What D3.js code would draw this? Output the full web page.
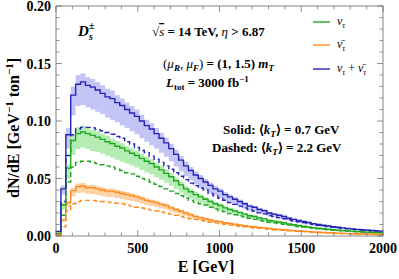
<!DOCTYPE html>
<html><head><meta charset="utf-8">
<script src="https://cdn.jsdelivr.net/npm/d3@7"></script>
<style>body{margin:0;background:#fff} svg{display:block} text{font-family:"Liberation Serif","Times New Roman",serif;fill:#000}</style>
</head><body><svg id="c" width="399" height="279"></svg>
<script>
// Histogram: 30 GeV bins starting at 0 GeV; values in units of 1e-3 GeV^-1 ton^-1
const binWidth = 30;
const xTicks = [0, 500, 1000, 1500, 2000];
const yTicks = [0, 0.05, 0.10, 0.15, 0.20];
const yTickLabels = ["0.00", "0.05", "0.10", "0.15", "0.20"];

// nu_tau, <kT> = 0.7 GeV (solid)
const nuSolid = [2.5,27,59,83,89,90.5,89,87.5,86,84,82,80.5,78,76.5,74,72,70,67.5,65,63,60,57.5,54.5,51.5,48,44.5,41,38.5,36,34,32,30,28,26.5,24.5,23,21.7,20.3,19,17.6,17,15.6,14.9,13.5,12.9,12.2,11.5,10.5,9.8,9.1,8.5,7.9,7.3,6.8,6.3,5.9,5.5,5.1,4.8,4.5,4.2,3.9,3.6,3.4,3.2,3.0,2.8];
// nu_tau, <kT> = 2.2 GeV (dashed)
const nuDashed = [1.5,18,47,60,64,65,65,64,63,62,61,60,58,57,55,54,52,50,49,47,45,43,41,39,37,35,33,31,29.5,28,27,25,23.5,22,21,19.5,18.5,17.5,16.5,15.5,14.5,13.5,13,12,11.5,10.8,10.1,9.5,8.8,8.3,7.8,7.3,6.8,6.3,5.9,5.5,5.2,4.8,4.5,4.2,3.9,3.7,3.5,3.3,3.1,2.9,2.7];
// anti-nu_tau, solid
const nubarSolid = [1.5,14,29,39.5,43,43.5,42,42,41,40,39,39,38,37,36,35,34,32.5,31,30,29,27.5,26.5,24.5,23,21.5,20,18.5,17,16,15,14,13,12.5,11.5,11,10.3,9.7,9,8.4,8,7.4,7.1,6.5,6.1,5.8,5.5,5,4.7,4.4,4.1,3.8,3.5,3.2,3,2.8,2.6,2.5,2.3,2.1,2,1.9,1.8,1.7,1.6,1.5,1.4];
// anti-nu_tau, dashed
const nubarDashed = [0.5,8,22,28,30,31,31,31,30.5,30,29.5,29,28.5,28,27,26,25,24.3,23.5,22.5,21.8,21,20,19,18,17,16,15,14.3,13.7,13,12,11.4,10.8,10.1,9.5,9,8.5,8,7.5,7,6.6,6.2,5.8,5.5,5.2,4.9,4.6,4.3,4,3.8,3.5,3.3,3.1,2.9,2.7,2.5,2.3,2.2,2,1.9,1.8,1.7,1.6,1.5,1.4,1.3];
// nu + nubar, solid
const sumSolid = [4,41,88,122.5,132,134,131,129.5,127,124,121,119.5,116,113.5,110,107,104,100,96,93,89,85,81,76,71,66,61,57,53,50,47,44,41,39,36,34,32,30,28,26,25,23,22,20,19,18,17,15.5,14.5,13.5,12.6,11.7,10.8,10,9.3,8.7,8.1,7.6,7.1,6.6,6.2,5.8,5.4,5.1,4.8,4.5,4.2];
// nu + nubar, dashed
const sumDashed = [2,30,70,88,93,94.5,94.5,94,92.5,91.5,90,88.5,86.5,85,82,80,77,74.3,72.5,69.5,66.8,64,61,58,55,52,49,46,43.8,41.7,40,37,34.9,32.8,31.1,29,27.5,26,24.5,23,21.5,20.1,19.2,17.8,17,16,15,14.1,13.1,12.3,11.6,10.8,10.1,9.4,8.8,8.2,7.7,7.1,6.7,6.2,5.8,5.5,5.2,4.9,4.6,4.3,4];
// scale-variation bands (mu_R, mu_F), solid case: low / high edges
const nuLo = [2.1,23,50,70.5,75.7,77,75.7,74,73,71.5,69.7,68,66.3,64.6,63,61.2,59.5,57.4,55.3,53.6,51,48.9,46.3,43.8,40.8,37.8,34.9,32.7,30.6,28.9,27.2,25.5,23.8,22.5,20.8,19.6,18.4,17.3,16.2,15,14.5,13.3,12.7,11.5,11,10.4,9.8,8.9,8.3,7.7,7.2,6.7,6.2,5.8,5.4,5,4.7,4.3,4.1,3.8,3.6,3.3,3.1,2.9,2.7,2.6,2.4];
const nuHi = [2.7,28.6,62.5,88,94.5,96,94.5,92.2,91,89,87,84.8,82.7,80.6,78.4,76.3,74.2,71.6,68.9,66.8,63.6,61,57.8,54.6,50.9,47.2,43.5,40.8,38.2,36,33.9,31.8,29.7,28.1,26,24.4,23,21.5,20.1,18.7,18,16.5,15.8,14.3,13.7,12.9,12.2,11.1,10.4,9.6,9,8.4,7.7,7.2,6.7,6.3,5.8,5.4,5.1,4.8,4.5,4.1,3.8,3.6,3.4,3.2,3];
const nubarLo = [1.3,12.2,25.2,34.4,37.4,37.8,36.5,36.5,35.7,34.8,33.9,33.9,33.1,32.2,31.3,30.5,29.6,28.3,27,26.1,25.2,23.9,23.1,21.3,20,18.7,17.4,16.1,14.8,13.9,13.1,12.2,11.3,10.9,10,9.6,9,8.4,7.8,7.3,7,6.4,6.2,5.7,5.3,5,4.8,4.4,4.1,3.8,3.6,3.3,3,2.8,2.6,2.4,2.3,2.2,2,1.8,1.7,1.7,1.6,1.5,1.4,1.3,1.2];
const nubarHi = [1.6,14.8,30.7,41.9,45.6,46.1,44.5,44.5,43.5,42.4,41.3,41.3,40.3,39.2,38.2,37.1,36,34.5,32.9,31.8,30.7,29.2,28.1,26,24.4,22.8,21.2,19.6,18,17,15.9,14.8,13.8,13.3,12.2,11.7,10.9,10.3,9.5,8.9,8.5,7.8,7.5,6.9,6.5,6.1,5.8,5.3,5,4.7,4.3,4,3.7,3.4,3.2,3,2.8,2.7,2.4,2.2,2.1,2,1.9,1.8,1.7,1.6,1.5];
const sumLo = [3.5,36,76,105,113,114,112,110,108,106,103,101,99,96,94,91,88.5,85,82,79,76,72.5,69,65,60.5,56,52,48.5,45,42.5,40,37.5,35,33,30.5,29,27.2,25.5,23.8,22.1,21.3,19.6,18.7,17,16.2,15.3,14.5,13.2,12.3,11.5,10.7,9.9,9.2,8.5,7.9,7.4,6.9,6.5,6,5.6,5.3,4.9,4.6,4.3,4.1,3.8,3.6];
const sumHi = [4.5,44,94,130,140,141.5,138,136.5,134,131,128,126.5,122.5,119.5,116,113,110,105.5,101,98,94,89.5,85.5,80,75,69.5,64.5,60,56,53,49.5,46.5,43.5,41,38,36,33.8,31.7,29.6,27.5,26.4,24.3,23.2,21.1,20,19,18,16.4,15.3,14.2,13.3,12.3,11.4,10.6,9.8,9.2,8.5,8,7.5,7,6.5,6.1,5.7,5.4,5.1,4.7,4.4];

const W = 399, H = 279;
const m = {l: 56, r: 16, t: 6, b: 43};
const svg = d3.select("#c");
const x = d3.scaleLinear().domain([0, 2000]).range([m.l, W - m.r]);
const y = d3.scaleLinear().domain([0, 0.20]).range([H - m.b, m.t]);

const cBlue = "#2323b4", cGreen = "#1fa81f", cOrange = "#ff8a1e";
const fBlue = "#c4c4f7", fGreen = "#b4ecb4", fOrange = "#ffd2a6";

svg.append("defs").append("clipPath").attr("id", "clip")
  .append("rect").attr("x", m.l).attr("y", m.t).attr("width", W - m.l - m.r).attr("height", H - m.t - m.b);

function pts(arr) {
  const p = arr.map((v, i) => [i * binWidth, v / 1000]);
  p.push([arr.length * binWidth, arr[arr.length - 1] / 1000]);
  return p;
}
const stepLine = d3.line().x(d => x(d[0])).y(d => y(d[1])).curve(d3.curveStepAfter);
const stepArea = d3.area().x(d => x(d[0])).y0(d => y(d[1])).y1(d => y(d[2])).curve(d3.curveStepAfter);
function bandPts(lo, hi) {
  const p = lo.map((v, i) => [i * binWidth, v / 1000, hi[i] / 1000]);
  p.push([lo.length * binWidth, lo[lo.length - 1] / 1000, hi[hi.length - 1] / 1000]);
  return p;
}
const g = svg.append("g").attr("clip-path", "url(#clip)");
[[sumLo, sumHi, fBlue], [nuLo, nuHi, fGreen], [nubarLo, nubarHi, fOrange]].forEach(([lo, hi, c]) => {
  g.append("path").attr("d", stepArea(bandPts(lo, hi))).attr("fill", c).attr("stroke", "none");
});
const series = [
  [nubarDashed, cOrange, true], [nuDashed, cGreen, true], [sumDashed, cBlue, true],
  [nubarSolid, cOrange, false], [nuSolid, cGreen, false], [sumSolid, cBlue, false]
];
series.forEach(([arr, c, dashed]) => {
  g.append("path").attr("d", stepLine(pts(arr))).attr("fill", "none").attr("stroke", c)
    .attr("stroke-width", 1.4).attr("stroke-dasharray", dashed ? "5,3" : null);
});

// frame and ticks
const frameCol = "#666";
svg.append("rect").attr("x", m.l).attr("y", m.t).attr("width", W - m.l - m.r).attr("height", H - m.t - m.b)
  .attr("fill", "none").attr("stroke", frameCol).attr("stroke-width", 0.8);
const xMinor = d3.range(0, 2001, 100), yMinor = d3.range(0, 0.2001, 0.01);
const tk = svg.append("g").attr("stroke", frameCol).attr("stroke-width", 0.7);
xMinor.forEach(v => {
  const major = xTicks.includes(v); const L = major ? 6 : 3.5;
  tk.append("line").attr("x1", x(v)).attr("x2", x(v)).attr("y1", y(0)).attr("y2", y(0) - L);
  tk.append("line").attr("x1", x(v)).attr("x2", x(v)).attr("y1", y(0.2)).attr("y2", y(0.2) + L);
});
yMinor.forEach((v, i) => {
  const major = i % 5 === 0; const L = major ? 6 : 3.5;
  tk.append("line").attr("y1", y(v)).attr("y2", y(v)).attr("x1", x(0)).attr("x2", x(0) + L);
  tk.append("line").attr("y1", y(v)).attr("y2", y(v)).attr("x1", x(2000)).attr("x2", x(2000) - L);
});
svg.append("g").selectAll("text").data(xTicks).join("text")
  .attr("x", d => x(d)).attr("y", 253).attr("text-anchor", "middle")
  .attr("font-size", 14).attr("font-weight", "bold").text(d => d);
svg.append("g").selectAll("text").data(yTicks).join("text")
  .attr("x", 51).attr("y", d => y(d) + 5).attr("text-anchor", "end")
  .attr("font-size", 14).attr("font-weight", "bold").text((d, i) => yTickLabels[i]);

// axis labels
svg.append("text").attr("x", 206).attr("y", 272).attr("text-anchor", "middle")
  .attr("font-size", 16).attr("font-weight", "bold").text("E [GeV]");
const yl = svg.append("text").attr("transform", "translate(19,128) rotate(-90)").attr("text-anchor", "middle")
  .attr("font-size", 16).attr("font-weight", "bold");
yl.append("tspan").text("dN/dE [GeV");
yl.append("tspan").attr("dy", -6).attr("font-size", 11).text("−1");
yl.append("tspan").attr("dy", 6).text(" ton");
yl.append("tspan").attr("dy", -6).attr("font-size", 11).text("−1");
yl.append("tspan").attr("dy", 6).text("]");

// annotations
const ann = svg.append("g").attr("font-weight", "bold");
ann.append("text").attr("x", 78).attr("y", 36).attr("font-size", 15).attr("font-style", "italic").text("D");
ann.append("text").attr("x", 89).attr("y", 29).attr("font-size", 10).text("±");
ann.append("text").attr("x", 89).attr("y", 40).attr("font-size", 10).attr("font-style", "italic").text("s");

const t1 = ann.append("text").attr("x", 152).attr("y", 36).attr("font-size", 13);
t1.append("tspan").attr("font-weight", "normal").text("√");
t1.append("tspan").attr("font-style", "italic").attr("font-weight", "normal").attr("text-decoration", "overline").text("s");
t1.append("tspan").text(" = 14 TeV,  ");
t1.append("tspan").attr("font-style", "italic").attr("font-weight", "normal").text("η");
t1.append("tspan").text(" > 6.87");

const t2 = ann.append("text").attr("x", 163).attr("y", 68).attr("font-size", 13);
t2.append("tspan").attr("font-weight", "normal").text("(");
t2.append("tspan").attr("font-style", "italic").attr("font-weight", "normal").text("μ");
t2.append("tspan").attr("font-style", "italic").attr("font-size", 9).attr("dy", 3).text("R");
t2.append("tspan").attr("dy", -3).attr("font-weight", "normal").text(", ");
t2.append("tspan").attr("font-style", "italic").attr("font-weight", "normal").text("μ");
t2.append("tspan").attr("font-style", "italic").attr("font-size", 9).attr("dy", 3).text("F");
t2.append("tspan").attr("dy", -3).attr("font-weight", "normal").text(")");
t2.append("tspan").text(" = (1, 1.5) ");
t2.append("tspan").attr("font-style", "italic").text("m");
t2.append("tspan").attr("font-style", "italic").attr("font-size", 9).attr("dy", 3).text("T");

const t3 = ann.append("text").attr("x", 166).attr("y", 87).attr("font-size", 13);
t3.append("tspan").attr("font-style", "italic").text("L");
t3.append("tspan").attr("font-size", 9).attr("dy", 3).text("tot");
t3.append("tspan").attr("dy", -3).text(" = 3000 fb");
t3.append("tspan").attr("font-size", 9).attr("dy", -5).text("−1");

function ktText(xx, yy, pre, val) {
  const t = ann.append("text").attr("x", xx).attr("y", yy).attr("font-size", 13);
  t.append("tspan").text(pre + " ⟨");
  t.append("tspan").attr("font-style", "italic").text("k");
  t.append("tspan").attr("font-style", "italic").attr("font-size", 9).attr("dy", 3).text("T");
  t.append("tspan").attr("dy", -3).text("⟩ = " + val + " GeV");
}
ktText(223, 134, "Solid:", "0.7");
ktText(212, 152, "Dashed:", "2.2");

// legend
const legend = [
  {c: cGreen, lab: [["ν", 0], ["τ", 1]]},
  {c: cOrange, lab: [["ν\u0304", 0], ["τ", 1]]},
  {c: cBlue, lab: [["ν", 0], ["τ", 1], [" + ", 0], ["ν\u0304", 0], ["τ", 1]]}
];
const ly = [22, 45, 69];
legend.forEach((d, i) => {
  svg.append("line").attr("x1", 313).attr("x2", 330).attr("y1", ly[i]).attr("y2", ly[i])
    .attr("stroke", d.c).attr("stroke-width", 1.4);
  const t = svg.append("text").attr("x", 337).attr("y", ly[i] + 3).attr("font-size", 12).attr("font-style", "italic");
  let sub = false;
  d.lab.forEach(([s, isSub]) => {
    const sp = t.append("tspan").text(s);
    if (isSub && !sub) { sp.attr("dy", 3).attr("font-size", 8); sub = true; }
    else if (!isSub && sub) { sp.attr("dy", -3).attr("font-style", s.trim() === "+" ? "normal" : "italic"); sub = false; }
    else if (isSub) sp.attr("font-size", 8);
  });
});
</script></body></html>
